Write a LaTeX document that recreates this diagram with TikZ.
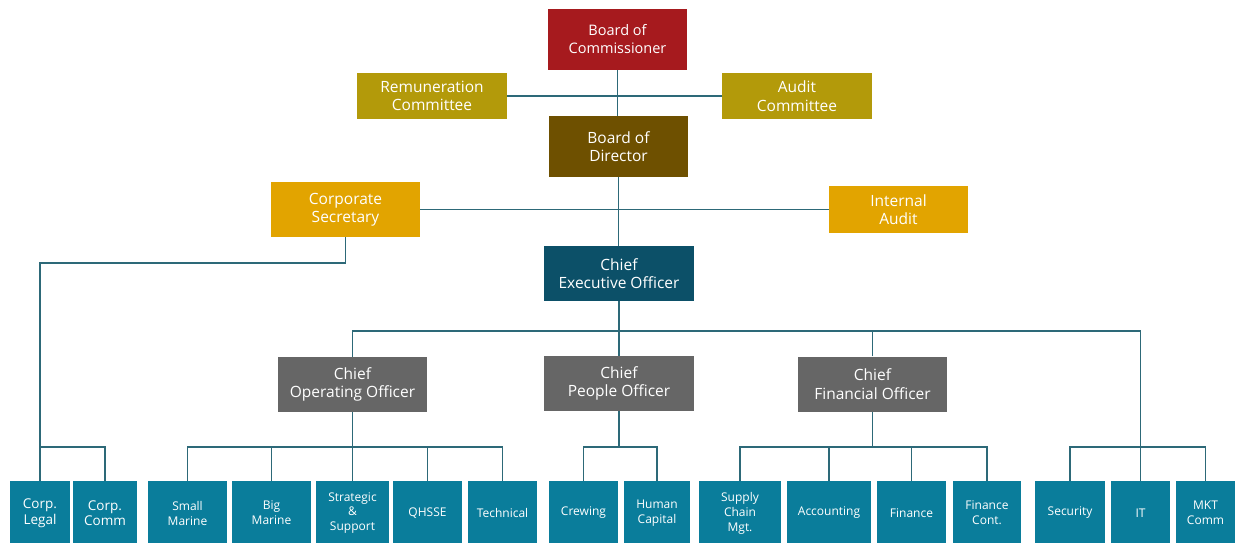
\documentclass[tikz,border=0pt]{standalone}
\usepackage{fontspec}
\setmainfont{Open Sans}
\definecolor{cBoC}{RGB}{166,26,30}
\definecolor{cCom}{RGB}{179,154,10}
\definecolor{cBoD}{RGB}{110,80,0}
\definecolor{cSec}{RGB}{226,164,0}
\definecolor{cCEO}{RGB}{12,80,104}
\definecolor{cChief}{RGB}{102,102,102}
\definecolor{cUnit}{RGB}{10,125,155}
\definecolor{cLine}{RGB}{45,105,120}
\tikzset{
  box/.style={rectangle, inner sep=0pt, text=white, align=center},
  topbox/.style={box, font=\fontsize{15.5}{18.5}\selectfont},
  chiefbox/.style={box, fill=cChief, minimum width=149pt, minimum height=55pt, font=\fontsize{15.5}{18.5}\selectfont},
  unit/.style={box, fill=cUnit, minimum height=64pt, font=\fontsize{12}{15}\selectfont},
  conn/.style={draw=cLine, line width=1.3pt}
}
\begin{document}
\begin{tikzpicture}[x=1pt,y=-1pt]
\useasboundingbox[fill=white] (0,0) rectangle (1238,542);
% top level
\node[topbox, fill=cBoC, minimum width=139pt, minimum height=61pt, font=\fontsize{14.5}{18}\selectfont] (boc) at (617.5,39.5) {Board of\\Commissioner};
\node[topbox, fill=cCom, minimum width=150pt, minimum height=46pt] (rem) at (432,96) {Remuneration\\Committee};
\node[topbox, fill=cCom, minimum width=150pt, minimum height=46pt] (aud) at (797,96) {Audit\\Committee};
\node[topbox, fill=cBoD, minimum width=139pt, minimum height=61pt] (bod) at (618.5,146.5) {Board of\\Director};
\node[topbox, fill=cSec, minimum width=149pt, minimum height=55pt] (cs) at (345.5,209.5) {Corporate\\Secretary};
\node[topbox, fill=cSec, minimum width=139pt, minimum height=47pt] (ia) at (898.5,209.5) {Internal\\Audit};
\node[chiefbox, fill=cCEO, minimum width=150pt] (ceo) at (619,273.5) {Chief\\Executive Officer};
\node[chiefbox] (coo) at (352.5,384.5) {Chief\\Operating Officer};
\node[chiefbox, minimum width=150pt] (cpo) at (619,383.5) {Chief\\People Officer};
\node[chiefbox] (cfo) at (872.5,384) {Chief\\Financial Officer};
% units
\node[unit, minimum width=60pt, font=\fontsize{13.5}{15.5}\selectfont] (legal) at (40,513) {Corp.\\Legal};
\node[unit, minimum width=64pt, font=\fontsize{13.5}{15.5}\selectfont] (comm) at (105,513) {Corp.\\Comm};
\node[unit, minimum width=79pt] (small) at (187.5,513) {Small\\Marine};
\node[unit, minimum width=79pt] (big) at (271.5,513) {Big\\Marine};
\node[unit, minimum width=73pt, font=\fontsize{12}{14.5}\selectfont] (strat) at (352.5,513) {Strategic\\\&\\Support};
\node[unit, minimum width=69pt] (qhsse) at (427.5,513) {QHSSE};
\node[unit, minimum width=69pt] (tech) at (502.5,513) {Technical};
\node[unit, minimum width=69pt] (crew) at (583.5,513) {Crewing};
\node[unit, minimum width=66pt] (hc) at (657,513) {Human\\Capital};
\node[unit, minimum width=82pt] (scm) at (740,513) {Supply\\Chain\\Mgt.};
\node[unit, minimum width=84pt] (acc) at (829,513) {Accounting};
\node[unit, minimum width=69pt] (fin) at (911.5,513) {Finance};
\node[unit, minimum width=68pt] (fc) at (987,513) {Finance\\Cont.};
\node[unit, minimum width=70pt] (sec) at (1070,513) {Security};
\node[unit, minimum width=59pt] (it) at (1140.5,513) {IT};
\node[unit, minimum width=59pt] (mkt) at (1205.5,513) {MKT\\Comm};
% bus levels
\coordinate (turnCS) at (0,263);
\coordinate (busC) at (0,331);
\coordinate (busL) at (0,447);
% connectors
\draw[conn] (boc.south) -- (boc.south |- bod.north);
\draw[conn] (rem.east) -- (aud.west);
\draw[conn] (bod.south) -- (bod.south |- ceo.north);
\draw[conn] (cs.east) -- (ia.west);
\draw[conn] (cs.south) |- (legal.north |- turnCS) -- (legal.north);
\draw[conn] (legal.north |- busL) -- (comm.north |- busL) -- (comm.north);
\draw[conn] (ceo.south) -- (ceo.south |- busC);
\draw[conn] (coo.north) |- (it.north |- busC) -- (it.north);
\draw[conn] (cpo.north) -- (cpo.north |- busC);
\draw[conn] (cfo.north) -- (cfo.north |- busC);
% COO
\draw[conn] (coo.south) -- (coo.south |- busL);
\draw[conn] (small.north) |- (tech.north |- busL) -- (tech.north);
\draw[conn] (big.north) -- (big.north |- busL);
\draw[conn] (strat.north) -- (strat.north |- busL);
\draw[conn] (qhsse.north) -- (qhsse.north |- busL);
% CPO
\draw[conn] (cpo.south) -- (cpo.south |- busL);
\draw[conn] (crew.north) |- (hc.north |- busL) -- (hc.north);
% CFO
\draw[conn] (cfo.south) -- (cfo.south |- busL);
\draw[conn] (scm.north) |- (fc.north |- busL) -- (fc.north);
\draw[conn] (acc.north) -- (acc.north |- busL);
\draw[conn] (fin.north) -- (fin.north |- busL);
% right group
\draw[conn] (sec.north) |- (mkt.north |- busL) -- (mkt.north);
\end{tikzpicture}
\end{document}
